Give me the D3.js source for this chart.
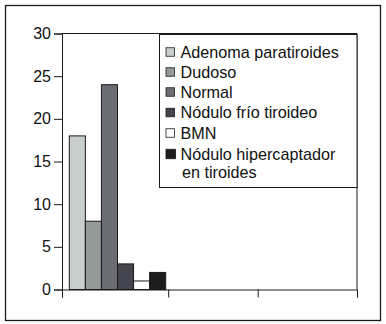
<!DOCTYPE html>
<html>
<head>
<meta charset="utf-8">
<script src="https://cdn.jsdelivr.net/npm/d3@7"></script>
<style>
body { margin: 0; background: #fff; }
text { font-family: "Liberation Sans", Arial, sans-serif; fill: #111; }
</style>
</head>
<body>
<div class="container"></div>
<script>
const wd = 386
const ht = 324

// data
const series = ["Adenoma paratiroides", "Dudoso", "Normal", "Nódulo frío tiroideo", "BMN", "Nódulo hipercaptador en tiroides"]
const values = [18, 8, 24, 3, 1, 2]
const colors = ["#c8cfcc", "#959b98", "#6b6c74", "#45454f", "#ffffff", "#1c1c1c"]
const legendLines = [["Adenoma paratiroides"], ["Dudoso"], ["Normal"], ["Nódulo frío tiroideo"], ["BMN"], ["Nódulo hipercaptador", "en tiroides"]]
const yTicks = [0, 5, 10, 15, 20, 25, 30]
const xTicks = [0, 1.08, 1.99, 3]   // category boundaries as they sit in the picture

const svgC = d3.select(".container")
.append("svg")
.attr("width", wd)
.attr("height", ht)

// outer frame
svgC.append("rect")
.attr("x", 5.5).attr("y", 5.5)
.attr("width", 375).attr("height", 315)
.attr("fill", "none")
.attr("stroke", "#1a1a1a")
.attr("stroke-width", 1.3)

const pL = 62, pR = 357, pT = 33.5, pB = 289.5

const yScale = d3.scaleLinear().domain([0, 30]).range([pB, pT])
const xScale = d3.scaleLinear().domain([0, 3]).range([pL, pR])

// bars live in the first category
const barScale = d3.scaleBand()
.domain(series)
.range([xScale(xTicks[0]) + 7.3, xScale(xTicks[1]) - 2.5])

// plot frame (top and right)
svgC.append("path")
.attr("d", `M${pL},${pT}H${pR}V${pB}`)
.attr("fill", "none")
.attr("stroke", "#1a1a1a")
.attr("stroke-width", 1)

const yAxis = svgC.append("g")
.attr("transform", `translate(${pL},0)`)
.call(d3.axisLeft(yScale).tickValues(yTicks).tickSize(8).tickPadding(3))
yAxis.select(".domain").attr("stroke", "#1a1a1a")
yAxis.selectAll("line").attr("stroke", "#1a1a1a")
yAxis.selectAll("text").style("font-size", "16px").attr("fill", "#111")

const xAxis = svgC.append("g")
.attr("transform", `translate(0,${pB})`)
.call(d3.axisBottom(xScale).tickValues(xTicks).tickSize(8).tickFormat(""))
xAxis.select(".domain").attr("stroke", "#1a1a1a")
xAxis.selectAll("line").attr("stroke", "#1a1a1a")

svgC.append("g")
.selectAll("rect")
.data(series)
.join("rect")
.attr("x", d => barScale(d))
.attr("y", (d, i) => yScale(values[i]))
.attr("width", barScale.bandwidth())
.attr("height", (d, i) => yScale(0) - yScale(values[i]))
.attr("fill", (d, i) => colors[i])
.attr("stroke", "#1a1a1a")
.attr("stroke-width", 1)

// legend
const lg = svgC.append("g")
lg.append("rect")
.attr("x", 159.5).attr("y", 34.5)
.attr("width", 197.5).attr("height", 153)
.attr("fill", "#fff")
.attr("stroke", "#1a1a1a")
.attr("stroke-width", 1)

const rowY = [52, 72, 92, 112.5, 133, 154]
legendLines.forEach((lines, i) => {
  const sz = i === 5 ? 9.5 : 8.5
  lg.append("rect")
  .attr("x", 166).attr("y", rowY[i] - sz / 2)
  .attr("width", sz).attr("height", sz)
  .attr("fill", colors[i])
  .attr("stroke", "#1a1a1a")
  .attr("stroke-width", 0.8)
  lines.forEach((t, k) => {
    lg.append("text")
    .attr("x", k === 0 ? 180.5 : 182)
    .attr("y", rowY[i] + k * 18)
    .attr("dy", "0.36em")
    .style("font-size", "16.2px")
    .text(t)
  })
})
</script>
</body>
</html>
